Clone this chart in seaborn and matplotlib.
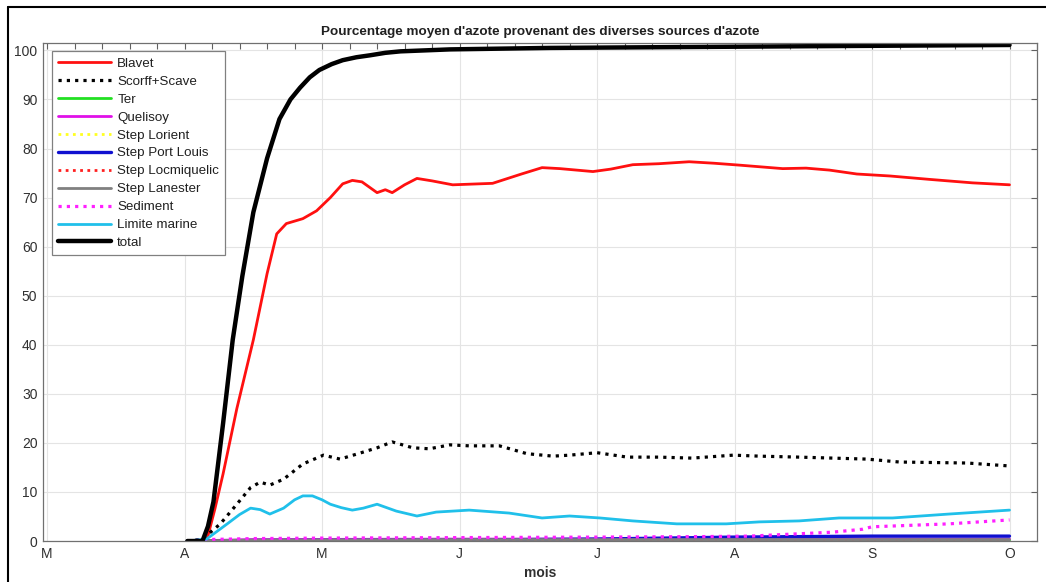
import numpy as np
import pandas as pd
import seaborn as sns
import matplotlib.pyplot as plt
from matplotlib.lines import Line2D
from matplotlib.ticker import MultipleLocator

# x in months since 1 March (0 = M, 1 = A, ... 7 = O)
month_labels = ["M", "A", "M", "J", "J", "A", "S", "O"]

blavet_x = [1.02, 1.16, 1.22, 1.28, 1.38, 1.50, 1.60, 1.67, 1.74, 1.86, 1.96, 2.06, 2.15, 2.22, 2.29,
            2.35, 2.40, 2.46, 2.51, 2.60, 2.69, 2.80, 2.95, 3.24, 3.45, 3.60, 3.73, 3.97, 4.10, 4.26,
            4.45, 4.67, 4.85, 5.04, 5.35, 5.52, 5.69, 5.89, 6.13, 6.42, 6.73, 7.0]
blavet_y = [0, 0, 6.5, 13.7, 27, 41, 54.5, 62.6, 64.7, 65.7, 67.3, 70, 72.8, 73.5, 73.2,
            72, 71, 71.6, 71, 72.6, 73.9, 73.4, 72.6, 72.9, 74.8, 76.1, 75.9, 75.3, 75.8, 76.7,
            76.9, 77.3, 77, 76.6, 75.9, 76, 75.6, 74.8, 74.4, 73.7, 73, 72.6]

scorff_x = [1.02, 1.13, 1.26, 1.38, 1.48, 1.55, 1.62, 1.72, 1.86, 2.01, 2.13, 2.25, 2.40, 2.51, 2.66,
            2.78, 2.93, 3.07, 3.29, 3.49, 3.68, 3.80, 4.00, 4.22, 4.45, 4.69, 4.99, 5.18, 5.47, 5.96,
            6.20, 6.69, 7.0]
scorff_y = [0, 0.4, 3.5, 7.5, 10.9, 12, 11.4, 12.6, 15.7, 17.5, 16.7, 17.7, 19, 20.2, 19,
            18.8, 19.6, 19.4, 19.4, 17.8, 17.3, 17.5, 18, 17.1, 17.1, 16.9, 17.5, 17.3, 17.1, 16.7,
            16.1, 15.9, 15.3]

small_x = [1.02, 1.5, 3.0, 4.0, 5.0, 6.0, 7.0]
ter_y = [0, 0.1, 0.1, 0.15, 0.2, 0.2, 0.2]
quelisoy_y = [0, 0.3, 0.4, 0.4, 0.4, 0.4, 0.4]
lorient_y = [0, 0.05, 0.05, 0.05, 0.05, 0.05, 0.05]
portlouis_y = [0, 0.1, 0.2, 0.4, 0.8, 1.0, 1.0]
locmiquelic_y = [0, 0.1, 0.1, 0.1, 0.1, 0.1, 0.1]
lanester_y = [0, 0.2, 0.3, 0.3, 0.3, 0.3, 0.3]

sediment_x = [1.02, 1.16, 1.50, 2.0, 3.0, 4.0, 4.75, 5.11, 5.71, 5.93, 6.00, 6.56, 7.0]
sediment_y = [0, 0.3, 0.5, 0.6, 0.7, 0.8, 0.9, 1.0, 1.8, 2.4, 2.9, 3.5, 4.3]

marine_x = [1.02, 1.16, 1.31, 1.40, 1.48, 1.55, 1.62, 1.72, 1.80, 1.86, 1.93, 2.00, 2.06, 2.14, 2.22,
            2.30, 2.40, 2.47, 2.54, 2.69, 2.83, 3.07, 3.36, 3.60, 3.80, 4.02, 4.26, 4.58, 4.94, 5.18,
            5.47, 5.76, 6.15, 6.56, 7.0]
marine_y = [0, 0.4, 3.5, 5.4, 6.7, 6.4, 5.5, 6.7, 8.4, 9.2, 9.2, 8.4, 7.5, 6.8, 6.3,
            6.7, 7.5, 6.8, 6.1, 5.1, 5.9, 6.3, 5.7, 4.7, 5.1, 4.7, 4.1, 3.5, 3.5, 3.9,
            4.1, 4.7, 4.7, 5.5, 6.3]

total_x = [1.02, 1.13, 1.17, 1.21, 1.28, 1.35, 1.42, 1.50, 1.60, 1.69, 1.77, 1.84, 1.91, 1.98, 2.07,
           2.15, 2.25, 2.35, 2.46, 2.57, 2.93, 3.66, 4.75, 5.84, 7.0]
total_y = [0, 0, 3, 8, 24, 41, 54, 67, 78, 86, 90, 92.4, 94.5, 96, 97.2,
           98, 98.6, 99, 99.5, 99.8, 100.2, 100.5, 100.7, 100.9, 101.1]

dot = (0, (1, 1.6))
series = [
    ("Blavet", blavet_x, blavet_y, "#ff1010", "-", 2.0),
    ("Scorff+Scave", scorff_x, scorff_y, "black", dot, 2.3),
    ("Ter", small_x, ter_y, "#22e022", "-", 2.0),
    ("Quelisoy", small_x, quelisoy_y, "#e010e8", "-", 2.0),
    ("Step Lorient", small_x, lorient_y, "#ffff20", dot, 2.0),
    ("Step Port Louis", small_x, portlouis_y, "#1010d0", "-", 2.4),
    ("Step Locmiquelic", small_x, locmiquelic_y, "#ff2020", dot, 2.0),
    ("Step Lanester", small_x, lanester_y, "#808080", "-", 2.0),
    ("Sediment", sediment_x, sediment_y, "#ff20ff", dot, 2.3),
    ("Limite marine", marine_x, marine_y, "#20c0ea", "-", 2.0),
    ("total", total_x, total_y, "black", "-", 3.2),
]

sns.set_theme(style="white")
plt.rcParams['font.family'] = ['Liberation Sans', 'DejaVu Sans']

fig = plt.figure(figsize=(10.46, 5.82), dpi=100)
ax = fig.add_axes([0.0411, 0.0704, 0.9503, 0.8557])

for name, xs, ys, col, ls, lw in series:
    df = pd.DataFrame({"mois": xs, "val": ys})
    sns.lineplot(data=df, x="mois", y="val", ax=ax, color=col, linestyle=ls,
                 linewidth=lw, label=name, errorbar=None)

ax.set_xlim(-0.03, 7.2)
ax.set_ylim(0, 101.5)
ax.set_xticks(np.arange(len(month_labels)))
ax.set_xticklabels(month_labels)
ax.xaxis.set_minor_locator(MultipleLocator(0.2))
ax.set_yticks(np.arange(0, 101, 10))
ax.tick_params(axis="both", which="both", direction="in", top=True, right=True,
               labelsize=10, labelcolor="#303030", color="#606060", length=4, width=0.8)
ax.tick_params(axis="x", pad=4)
ax.tick_params(axis="y", pad=4)
ax.grid(True, which="major", color="#e4e4e4", linewidth=0.8)
for sp in ax.spines.values():
    sp.set_color("#707070")
    sp.set_linewidth(0.9)

ax.set_xlabel("mois", fontsize=10, fontweight="bold", color="#303030", labelpad=4)
ax.set_ylabel("")
ax.set_title("Pourcentage moyen d'azote provenant des diverses sources d'azote",
             fontsize=9.7, fontweight="bold", color="#202020", pad=6)

leg = ax.legend(loc="upper left", bbox_to_anchor=(0.009, 0.983), borderaxespad=0,
                fontsize=9.6, handlelength=4.0, handletextpad=0.45, labelspacing=0.42,
                borderpad=0.45, fancybox=False, framealpha=1, edgecolor="#808080")
leg.get_frame().set_linewidth(0.9)
for t in leg.get_texts():
    t.set_color("#202020")

# frame lines of the screenshot
fig.add_artist(Line2D([8 / 1046, 1], [1 - 7 / 582, 1 - 7 / 582], color="black", lw=1.5))
fig.add_artist(Line2D([8 / 1046, 8 / 1046], [0, 1 - 7 / 582], color="black", lw=1.5))

fig.savefig("out.png", dpi=100)
